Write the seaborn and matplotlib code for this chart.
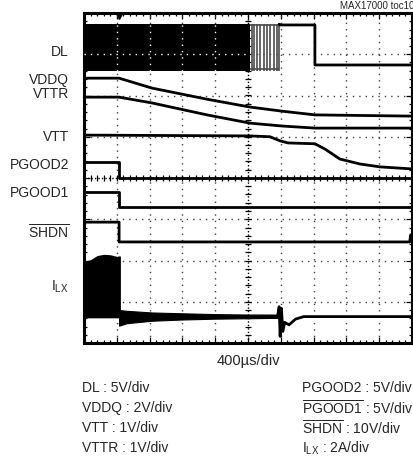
import numpy as np
import pandas as pd
import seaborn as sns
import matplotlib.pyplot as plt

sns.set_style('white')
plt.rcParams['font.family'] = ['Liberation Sans Narrow', 'Liberation Sans', 'DejaVu Sans']
plt.rcParams['mathtext.fontset'] = 'custom'
plt.rcParams['mathtext.rm'] = 'Liberation Sans'
plt.rcParams['mathtext.it'] = 'Liberation Sans:italic'
plt.rcParams['mathtext.bf'] = 'Liberation Sans:bold'

# scope screen: x in divisions (400us/div), y in divisions from the bottom
dl_burst_end = 5.06
dl_low, dl_high = 6.59, 7.73
dl_edges_x = [5.12, 5.18, 5.27, 5.37, 5.49, 5.58, 5.67, 5.79, 5.88, 5.95]
dl_x = [5.97, 7.04, 7.04, 10.0]
dl_y = [7.71, 7.71, 6.74, 6.74]

vddq_x = [0, 1.07, 2.07, 3.75, 5.06, 6.04, 7.04, 10.0]
vddq_y = [6.42, 6.42, 6.18, 5.91, 5.72, 5.62, 5.53, 5.50]

vttr_x = [0, 1.07, 2.07, 3.75, 5.06, 6.04, 7.04, 10.0]
vttr_y = [5.96, 5.96, 5.82, 5.53, 5.33, 5.26, 5.21, 5.21]

vtt_x = [0, 5.06, 5.67, 5.98, 6.22, 7.04, 7.35, 7.80, 8.41, 9.02, 10.0]
vtt_y = [5.04, 5.02, 5.00, 4.90, 4.85, 4.83, 4.70, 4.46, 4.34, 4.27, 4.22]

step_x = [0, 1.07, 1.07, 10.0]
pgood2_y = [4.39, 4.39, 4.00, 4.00]
pgood1_y = [3.66, 3.66, 3.30, 3.30]

shdn_x = [0, 1.07, 1.07, 9.93, 9.96, 10.0]
shdn_y = [2.93, 2.93, 2.45, 2.45, 2.62, 2.50]

ilx_on_x = [0, 0.2, 0.4, 0.6, 0.8, 1.0, 1.07]
ilx_on_top = [1.98, 2.02, 2.12, 2.15, 2.14, 2.10, 2.10]
ilx_zero = 0.61
ilx_off_x = [1.07, 1.3, 2.07, 3.0, 4.0, 5.0, 5.9]
ilx_off_hi = [0.80, 0.78, 0.74, 0.72, 0.70, 0.69, 0.69]
ilx_off_lo = [0.42, 0.48, 0.54, 0.57, 0.59, 0.60, 0.61]
ring_x = [5.9, 5.95, 5.98, 6.02, 6.06, 6.12, 6.25, 6.45, 6.7, 10.0]
ring_y = [0.64, 0.88, 0.16, 0.84, 0.28, 0.50, 0.44, 0.58, 0.64, 0.64]

trace_labels = ['DL', 'VDDQ', 'VTTR', 'VTT', 'PGOOD2', 'PGOOD1',
                r'$\overline{\mathrm{SHDN}}$', r'I$_{\mathrm{LX}}$']
trace_label_y = [52, 80, 94, 137, 165, 193, 232, 287]

scale_left = ['DL : 5V/div', 'VDDQ : 2V/div', 'VTT : 1V/div', 'VTTR : 1V/div']
scale_right = ['PGOOD2 : 5V/div', r'$\overline{\mathrm{PGOOD1}}$ : 5V/div',
               r'$\overline{\mathrm{SHDN}}$ : 10V/div', r'I$_{\mathrm{LX}}$ : 2A/div']

W, H = 414, 462
fig = plt.figure(figsize=(W / 100, H / 100), dpi=100)
ax = fig.add_axes([84 / W, 1 - 343 / H, 328 / W, 330 / H])
ax.set_xlim(0, 10)
ax.set_ylim(0, 8)

# graticule
dots = (0, (1, 3.6))
for gx in range(1, 10):
    if gx != 5:
        ax.axvline(gx, color='0.25', lw=1, ls=dots, zorder=1)
for gy in range(1, 8):
    if gy != 4:
        ax.axhline(gy, color='0.25', lw=1, ls=dots, zorder=1)
ax.axvline(5, color='black', lw=1, ls=(0, (1, 1.5)), zorder=1)
ax.axhline(4, color='black', lw=1, ls=(0, (1, 1.5)), zorder=1)
tk = np.arange(0.2, 10, 0.2)
ax.plot(tk, np.full_like(tk, 4), ls='none', marker='|', ms=4, mew=0.9, color='black', zorder=1)
tk = np.arange(0.2, 8, 0.2)
ax.plot(np.full_like(tk, 5), tk, ls='none', marker='_', ms=4, mew=0.9, color='black', zorder=1)

lw = 2.0
# DL switching burst, then the last few pulses and the final edge
ax.fill_between([0, dl_burst_end], dl_low, dl_high, color='black', lw=0, zorder=2)
ax.vlines(dl_edges_x, dl_low, dl_high, color='0.3', lw=1.2, zorder=2)
ax.hlines(dl_low + 0.05, dl_burst_end, dl_edges_x[-1], color='0.3', lw=1.2, zorder=2)
ax.hlines(dl_high - 0.03, dl_burst_end, dl_edges_x[-1], color='0.3', lw=1.2, zorder=2)
ax.hlines(7, 0, dl_burst_end, color='white', lw=1, linestyles=[dots], zorder=3)
ax.vlines([1, 2, 3, 4], dl_low, dl_high, color='white', lw=1, linestyles=[dots], zorder=3)
sns.lineplot(x=[dl_edges_x[-1]] + dl_x, y=[dl_high] + dl_y, ax=ax, color='black',
             lw=lw, sort=False, estimator=None, zorder=4)

traces = {
    'VDDQ': (vddq_x, vddq_y), 'VTTR': (vttr_x, vttr_y), 'VTT': (vtt_x, vtt_y),
    'PGOOD2': (step_x, pgood2_y), 'PGOOD1': (step_x, pgood1_y),
    'SHDN': (shdn_x, shdn_y), 'ILX': (ring_x, ring_y),
}
for name, (xs, ys) in traces.items():
    df = pd.DataFrame({'t': xs, 'v': ys})
    sns.lineplot(data=df, x='t', y='v', ax=ax, color='black', lw=lw,
                 sort=False, estimator=None, zorder=4)

# inductor current: switching envelope before shutdown, decaying ripple after
ax.fill_between(ilx_on_x, ilx_zero, ilx_on_top, color='black', lw=0, zorder=2)
ax.vlines(1.07, ilx_off_hi[0], ilx_on_top[-1], color='black', lw=lw, zorder=4)
ax.fill_between(ilx_off_x, ilx_off_lo, ilx_off_hi, color='black', lw=0.8, zorder=2)

# trigger marker
ax.plot([1.07], [7.93], marker='v', ms=4, color='black', ls='none', zorder=5, clip_on=False)

ax.set_xlabel('')
ax.set_ylabel('')
ax.set_xticks(range(0, 11))
ax.set_yticks(range(0, 9))
ax.set_xticks(np.arange(0, 10.01, 0.2), minor=True)
ax.set_yticks(np.arange(0, 8.01, 0.2), minor=True)
ax.tick_params(which='both', direction='in', top=True, right=True, bottom=True, left=True,
               labelbottom=False, labelleft=False, color='black', width=0.9)
ax.tick_params(which='major', length=4)
ax.tick_params(which='minor', length=2.5)
for s in ax.spines.values():
    s.set_visible(True)
    s.set_color('black')
    s.set_linewidth(2.2)

fs = 10
for lab, py in zip(trace_labels, trace_label_y):
    fig.text(69 / W, 1 - py / H, lab, ha='right', va='center', fontsize=fs)

fig.text(1.0, 1 - 6 / H, 'MAX17000 toc10', ha='right', va='center', fontsize=7)
fig.text(248 / W, 1 - 361 / H, '400\u00b5s/div', ha='center', va='center', fontsize=10.5)
row_y = [388, 408, 428, 448]
for lab, py in zip(scale_left, row_y):
    fig.text(82 / W, 1 - py / H, lab, ha='left', va='center', fontsize=fs)
for lab, py in zip(scale_right, row_y):
    fig.text(302 / W, 1 - py / H, lab, ha='left', va='center', fontsize=fs)

fig.savefig('out.png', dpi=100, facecolor='white')
